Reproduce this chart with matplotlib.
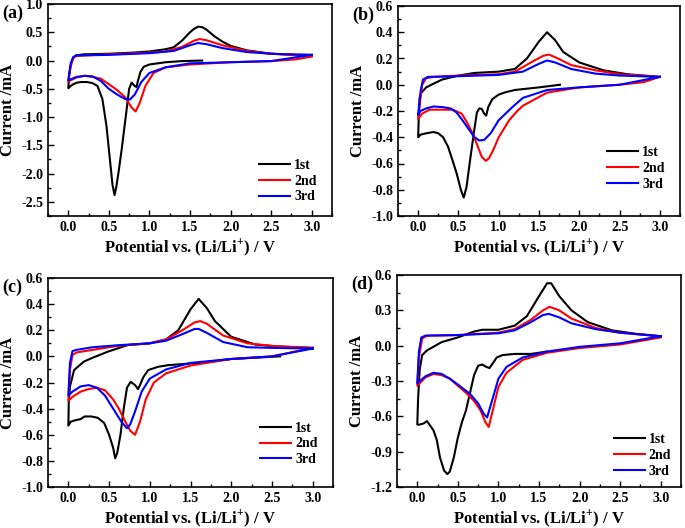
import matplotlib
matplotlib.use("Agg")
import matplotlib.pyplot as plt
from matplotlib.ticker import MultipleLocator

plt.rcParams["font.family"] = ["Liberation Serif", "DejaVu Serif"]
plt.rcParams["font.weight"] = "bold"
plt.rcParams["mathtext.fontset"] = "custom"
plt.rcParams["mathtext.rm"] = "Liberation Serif:bold"
plt.rcParams["mathtext.bf"] = "Liberation Serif:bold"

# ---- panel (a) ----
a1_v = [1.65, 1.4, 1.2, 1.0, 0.93, 0.89, 0.86, 0.84, 0.81, 0.78, 0.75, 0.71, 0.66, 0.62, 0.59, 0.57, 0.545, 0.52, 0.47, 0.42, 0.36, 0.3, 0.23, 0.16, 0.11, 0.06, 0.03, 0.0,
        0.005, 0.01, 0.025, 0.04, 0.06, 0.09, 0.14, 0.19, 0.35, 0.5, 0.8, 1.0, 1.2, 1.3, 1.4, 1.5, 1.55, 1.6, 1.65, 1.7, 1.8, 1.9, 2.0, 2.2, 2.5, 2.8, 3.0]
a1_i = [0.0, -0.01, -0.03, -0.07, -0.11, -0.2, -0.35, -0.47, -0.44, -0.39, -0.5, -0.97, -1.55, -1.97, -2.25, -2.38, -2.2, -1.85, -1.15, -0.68, -0.45, -0.4, -0.38, -0.38, -0.39, -0.42, -0.45, -0.49,
        -0.38, -0.26, -0.12, -0.03, 0.04, 0.09, 0.1, 0.11, 0.115, 0.12, 0.14, 0.16, 0.2, 0.235, 0.35, 0.5, 0.56, 0.6, 0.59, 0.55, 0.43, 0.335, 0.26, 0.18, 0.12, 0.1, 0.1]
a2_v = [3.0, 2.8, 2.5, 2.0, 1.5, 1.2, 1.05, 0.95, 0.88, 0.83, 0.78, 0.7, 0.6, 0.5, 0.4, 0.3, 0.2, 0.1, 0.0,
        0.03, 0.06, 0.1, 0.2, 0.5, 1.0, 1.2, 1.4, 1.55, 1.62, 1.7, 1.9, 2.2, 2.5, 3.0]
a2_i = [0.07, 0.02, -0.01, -0.03, -0.07, -0.12, -0.22, -0.45, -0.75, -0.9, -0.83, -0.65, -0.52, -0.42, -0.32, -0.29, -0.27, -0.3, -0.37,
        -0.1, 0.05, 0.08, 0.09, 0.11, 0.14, 0.16, 0.24, 0.35, 0.38, 0.36, 0.27, 0.17, 0.12, 0.08]
a3_v = [3.0, 2.5, 2.0, 1.5, 1.2, 1.0, 0.9, 0.82, 0.76, 0.7, 0.6, 0.5, 0.4, 0.3, 0.2, 0.1, 0.0,
        0.03, 0.06, 0.1, 0.5, 1.0, 1.3, 1.5, 1.6, 1.7, 1.9, 2.2, 2.5, 3.0]
a3_i = [0.1, -0.01, -0.03, -0.05, -0.12, -0.22, -0.38, -0.6, -0.69, -0.68, -0.6, -0.5, -0.36, -0.28, -0.27, -0.29, -0.35,
        -0.05, 0.06, 0.09, 0.1, 0.13, 0.17, 0.27, 0.31, 0.29, 0.22, 0.15, 0.12, 0.1]

# ---- panel (b) ----
b1_v = [1.76, 1.5, 1.2, 1.09, 1.0, 0.92, 0.87, 0.845, 0.82, 0.79, 0.76, 0.73, 0.7, 0.65, 0.6, 0.566, 0.53, 0.48, 0.434, 0.37, 0.31, 0.25, 0.19, 0.1, 0.03, 0.0,
        0.005, 0.01, 0.02, 0.04, 0.065, 0.1, 0.19, 0.3, 0.5, 0.7, 1.0, 1.2, 1.35, 1.5, 1.6, 1.7, 1.8, 2.0, 2.3, 2.6, 3.0]
b1_i = [0.0, -0.02, -0.04, -0.056, -0.075, -0.11, -0.17, -0.235, -0.22, -0.185, -0.18, -0.21, -0.33, -0.55, -0.78, -0.86, -0.8, -0.68, -0.59, -0.47, -0.4, -0.37, -0.36, -0.37, -0.38, -0.4,
        -0.3, -0.2, -0.095, -0.06, -0.044, -0.02, 0.008, 0.04, 0.07, 0.09, 0.1, 0.12, 0.2, 0.33, 0.4, 0.34, 0.25, 0.17, 0.11, 0.08, 0.06]
b2_v = [3.0, 2.8, 2.5, 2.0, 1.6, 1.3, 1.23, 1.13, 1.0, 0.93, 0.88, 0.84, 0.79, 0.74, 0.68, 0.6, 0.54, 0.43, 0.3, 0.14, 0.05, 0.0,
        0.02, 0.05, 0.1, 0.2, 0.5, 1.0, 1.2, 1.4, 1.55, 1.62, 1.7, 1.9, 2.2, 2.5, 3.0]
b2_i = [0.06, 0.02, 0.0, -0.02, -0.06, -0.16, -0.2, -0.27, -0.4, -0.5, -0.56, -0.58, -0.55, -0.47, -0.375, -0.28, -0.22, -0.19, -0.19, -0.19, -0.22, -0.26,
        -0.15, 0.0, 0.05, 0.06, 0.07, 0.08, 0.1, 0.17, 0.22, 0.23, 0.21, 0.15, 0.11, 0.08, 0.06]
b3_v = [3.0, 2.5, 2.0, 1.6, 1.3, 1.17, 1.0, 0.9, 0.82, 0.76, 0.7, 0.64, 0.55, 0.475, 0.4, 0.3, 0.19, 0.1, 0.03, 0.0,
        0.03, 0.06, 0.12, 0.5, 1.0, 1.3, 1.5, 1.6, 1.7, 1.9, 2.2, 2.5, 3.0]
b3_i = [0.06, 0.0, -0.02, -0.04, -0.1, -0.17, -0.27, -0.37, -0.42, -0.425, -0.4, -0.35, -0.27, -0.21, -0.18, -0.17, -0.166, -0.18, -0.2, -0.23,
        -0.05, 0.04, 0.06, 0.065, 0.075, 0.1, 0.16, 0.185, 0.17, 0.12, 0.085, 0.07, 0.06]

# ---- panel (c) ----
c1_v = [2.6, 2.0, 1.6, 1.23, 1.1, 0.98, 0.92, 0.88, 0.855, 0.82, 0.765, 0.72, 0.68, 0.64, 0.6, 0.575, 0.55, 0.5, 0.44, 0.36, 0.28, 0.2, 0.15, 0.08, 0.03, 0.0,
        0.005, 0.02, 0.07, 0.19, 0.3, 0.48, 0.73, 1.0, 1.2, 1.35, 1.5, 1.6, 1.7, 1.8, 2.0, 2.3, 2.6, 3.0]
c1_i = [0.0, -0.02, -0.05, -0.067, -0.08, -0.105, -0.16, -0.22, -0.25, -0.22, -0.195, -0.24, -0.4, -0.6, -0.74, -0.78, -0.7, -0.6, -0.51, -0.47, -0.46, -0.46, -0.48, -0.49, -0.5, -0.53,
        -0.35, -0.23, -0.105, -0.04, -0.01, 0.035, 0.087, 0.1, 0.13, 0.2, 0.36, 0.44, 0.37, 0.27, 0.15, 0.09, 0.075, 0.065]
c2_v = [3.0, 2.5, 2.0, 1.5, 1.2, 1.05, 0.95, 0.88, 0.82, 0.76, 0.7, 0.62, 0.55, 0.45, 0.35, 0.25, 0.15, 0.05, 0.0,
        0.02, 0.05, 0.1, 0.3, 0.6, 1.0, 1.2, 1.4, 1.55, 1.62, 1.7, 1.9, 2.2, 2.5, 3.0]
c2_i = [0.065, 0.0, -0.02, -0.07, -0.13, -0.2, -0.33, -0.5, -0.6, -0.57, -0.5, -0.4, -0.33, -0.26, -0.24, -0.25, -0.27, -0.31, -0.34,
        -0.1, 0.01, 0.03, 0.05, 0.08, 0.1, 0.13, 0.2, 0.26, 0.27, 0.25, 0.16, 0.1, 0.08, 0.065]
c3_v = [3.0, 2.5, 2.0, 1.5, 1.2, 1.0, 0.9, 0.82, 0.76, 0.72, 0.65, 0.55, 0.45, 0.35, 0.25, 0.15, 0.05, 0.0,
        0.02, 0.05, 0.1, 0.3, 0.6, 1.0, 1.2, 1.4, 1.55, 1.6, 1.7, 1.9, 2.2, 2.5, 3.0]
c3_i = [0.06, 0.0, -0.02, -0.05, -0.1, -0.17, -0.27, -0.42, -0.52, -0.55, -0.5, -0.4, -0.3, -0.24, -0.22, -0.23, -0.27, -0.3,
        -0.05, 0.04, 0.05, 0.07, 0.085, 0.1, 0.12, 0.17, 0.21, 0.21, 0.18, 0.11, 0.07, 0.065, 0.06]

# ---- panel (d) ----
d1_v = [1.6, 1.4, 1.2, 1.05, 0.98, 0.93, 0.89, 0.85, 0.8, 0.75, 0.7, 0.65, 0.6, 0.55, 0.5, 0.45, 0.4, 0.37, 0.33, 0.28, 0.24, 0.2, 0.15, 0.12, 0.08, 0.03, 0.0,
        0.01, 0.03, 0.06, 0.12, 0.3, 0.5, 0.7, 0.8, 1.0, 1.2, 1.35, 1.5, 1.6, 1.65, 1.75, 1.9, 2.1, 2.4, 2.7, 3.0]
d1_i = [-0.05, -0.07, -0.07, -0.08, -0.1, -0.15, -0.19, -0.18, -0.16, -0.17, -0.25, -0.4, -0.55, -0.65, -0.78, -0.95, -1.07, -1.09, -1.06, -0.95, -0.8, -0.72, -0.67, -0.64, -0.66, -0.67, -0.67,
        -0.45, -0.2, -0.08, -0.04, 0.03, 0.07, 0.12, 0.135, 0.135, 0.17, 0.25, 0.42, 0.53, 0.53, 0.42, 0.3, 0.2, 0.13, 0.1, 0.08]
d2_v = [3.0, 2.5, 2.0, 1.6, 1.3, 1.1, 1.0, 0.93, 0.88, 0.84, 0.78, 0.7, 0.6, 0.5, 0.4, 0.3, 0.2, 0.1, 0.0,
        0.02, 0.06, 0.12, 0.5, 1.0, 1.2, 1.4, 1.55, 1.63, 1.75, 1.9, 2.2, 2.5, 3.0]
d2_i = [0.07, 0.01, -0.02, -0.06, -0.12, -0.23, -0.35, -0.55, -0.69, -0.65, -0.55, -0.47, -0.4, -0.34, -0.28, -0.25, -0.24, -0.27, -0.34,
        -0.1, 0.06, 0.085, 0.09, 0.11, 0.14, 0.22, 0.3, 0.33, 0.3, 0.23, 0.15, 0.11, 0.08]
d3_v = [3.0, 2.5, 2.0, 1.6, 1.3, 1.1, 1.0, 0.92, 0.86, 0.82, 0.75, 0.65, 0.5, 0.4, 0.3, 0.2, 0.1, 0.0,
        0.02, 0.05, 0.1, 0.5, 1.0, 1.2, 1.4, 1.55, 1.62, 1.75, 1.9, 2.2, 2.5, 3.0]
d3_i = [0.08, 0.02, -0.01, -0.05, -0.1, -0.18, -0.28, -0.47, -0.61, -0.58, -0.49, -0.41, -0.33, -0.28, -0.24, -0.23, -0.26, -0.32,
        -0.05, 0.07, 0.085, 0.09, 0.105, 0.13, 0.2, 0.26, 0.27, 0.24, 0.19, 0.14, 0.11, 0.08]

cycles = ["1st", "2nd", "3rd"]
colors = ["black", "red", "blue"]

panels = [
    ("(a)", [(a1_v, a1_i), (a2_v, a2_i), (a3_v, a3_i)], (-2.75, 1.0), 0.5, [48, 4, 332, 216], (0.99, 0.0)),
    ("(b)", [(b1_v, b1_i), (b2_v, b2_i), (b3_v, b3_i)], (-1.0, 0.6), 0.2, [398, 6, 680, 216], (0.99, 0.06)),
    ("(c)", [(c1_v, c1_i), (c2_v, c2_i), (c3_v, c3_i)], (-1.0, 0.6), 0.2, [48, 278, 333, 487], (0.99, 0.04)),
    ("(d)", [(d1_v, d1_i), (d2_v, d2_i), (d3_v, d3_i)], (-1.2, 0.6), 0.3, [397, 275, 681, 487], (1.01, -0.015)),
]

W, H = 685, 528
fig = plt.figure(figsize=(W / 100, H / 100), dpi=100)

for label, curves, ylim, ystep, box, leg_pos in panels:
    x0, y0, x1, y1 = box
    ax = fig.add_axes([x0 / W, 1 - y1 / H, (x1 - x0) / W, (y1 - y0) / H])
    for (v, i), c, name in zip(curves, colors, cycles):
        ax.plot(v, i, color=c, lw=1.5, label=name)
    ax.set_xlim(-0.25, 3.25)
    ax.set_ylim(*ylim)
    ax.xaxis.set_major_locator(MultipleLocator(0.5))
    ax.xaxis.set_minor_locator(MultipleLocator(0.25))
    ax.yaxis.set_major_locator(MultipleLocator(ystep))
    ax.yaxis.set_minor_locator(MultipleLocator(ystep / 2))
    ax.yaxis.set_major_formatter(plt.FormatStrFormatter("%.1f"))
    ax.tick_params(which="both", direction="in", top=False, right=False, labelsize=10, width=1.0)
    ax.tick_params(which="major", length=4)
    ax.tick_params(which="minor", length=2.5)
    for s in ax.spines.values():
        s.set_linewidth(1.2)
    ax.set_xlabel("Potential vs. (Li/Li$^{+}$) / V", fontsize=12, fontweight="bold", labelpad=2)
    ax.set_ylabel("Current /mA", fontsize=12, fontweight="bold", labelpad=4)
    ax.legend(loc="lower right", bbox_to_anchor=leg_pos, frameon=False, fontsize=10,
              handlelength=2.2, handletextpad=0.3, labelspacing=0.2)
    fig.text((x0 - 46) / W, 1 - (y0 + 1) / H, label, fontsize=13, fontweight="bold", va="top", ha="left")

fig.savefig("out.png", dpi=100)
